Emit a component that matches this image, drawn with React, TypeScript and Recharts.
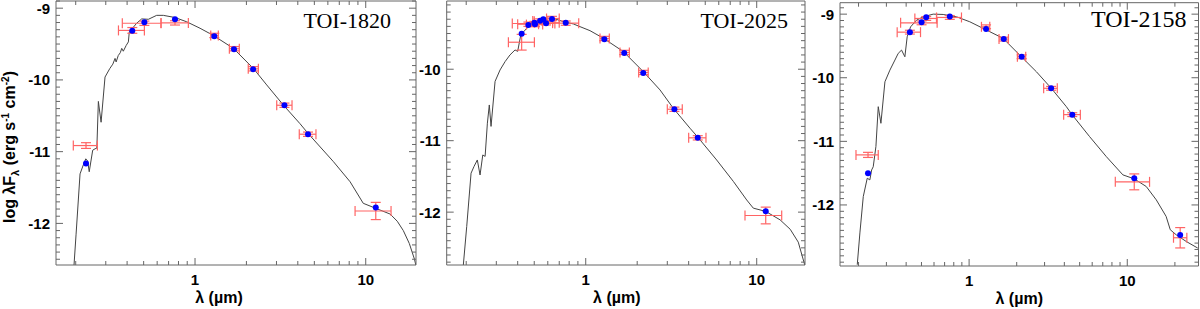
import React from 'react';
import { ComposedChart, Line, Scatter, ErrorBar, XAxis, YAxis } from 'recharts';

// TOI-1820: model spectrum (um, log flux) and photometry
const TOI1820_MODEL_WAVE = [
  0.1955, 0.201, 0.212, 0.222, 0.229, 0.235, 0.24, 0.2515, 0.2596, 0.266, 0.2715, 0.2816, 0.297, 0.317,
  0.33, 0.34, 0.345, 0.355, 0.365, 0.372, 0.38, 0.395, 0.407, 0.412, 0.43, 0.455, 0.487, 0.533, 0.596,
  0.652, 0.763, 0.894, 1.07, 1.28, 1.677, 2.196, 2.63, 3.29, 4.12, 4.61, 6.47, 8.1, 9.67, 11.45, 13.9,
  15.3, 16.6, 18.0, 19.3, 19.65,
];
const TOI1820_MODEL_FLUX = [
  -12.58, -12.15, -11.31, -11.18, -11.1, -11.13, -11.28, -10.98, -10.96, -10.95, -10.3, -10.59, -9.96, -9.84,
  -9.78, -9.7, -9.75, -9.66, -9.62, -9.56, -9.6, -9.52, -9.47, -9.33, -9.28, -9.21, -9.15, -9.155, -9.1,
  -9.1, -9.13, -9.19, -9.28, -9.38, -9.56, -9.84, -10.07, -10.35, -10.61, -10.75, -11.14, -11.42, -11.72, -11.79, -11.87,
  -11.97, -12.1, -12.28, -12.5, -12.58,
];
const TOI1820_WAVE = [0.2298, 0.429, 0.505, 0.763, 1.297, 1.692, 2.19, 3.34, 4.59, 11.45];
const TOI1820_WAVE_LO = [0.1936, 0.356, 0.375, 0.632, 1.236, 1.589, 2.05, 3.01, 4.08, 8.66];
const TOI1820_WAVE_HI = [0.268, 0.505, 0.632, 0.914, 1.369, 1.817, 2.35, 3.7, 5.11, 14.07];
const TOI1820_FLUX = [-10.915, -9.31, -9.21, -9.205, -9.38, -9.565, -9.845, -10.353, -10.757, -11.827];
const TOI1820_ERR = [0.04, 0.04, 0.03, 0.03, 0.03, 0.03, 0.03, 0.03, 0.03, 0.12];
const TOI1820_SYNTH = [-11.166, -9.316, -9.195, -9.153, -9.39, -9.572, -9.851, -10.353, -10.757, -11.78];

// TOI-2025
const TOI2025_MODEL_WAVE = [
  0.1924, 0.2014, 0.2135, 0.2223, 0.2323, 0.241, 0.25, 0.258, 0.266, 0.273, 0.2794, 0.295, 0.3155, 0.3375,
  0.3606, 0.386, 0.4, 0.417, 0.452, 0.4946, 0.565, 0.646, 0.7396, 0.846, 0.926, 1.059, 1.268, 1.66, 2.17,
  2.72, 3.25, 4.07, 4.52, 5.83, 7.3, 8.74, 9.55, 11.29, 13.7, 15.7, 17.5, 19.1,
];
const TOI2025_MODEL_FLUX = [
  -12.74, -12.2, -11.455, -11.36, -11.27, -11.48, -11.2, -11.22, -10.755, -10.5, -10.8, -10.17, -10.01, -9.894,
  -9.8, -9.73, -9.75, -9.52, -9.427, -9.357, -9.287, -9.287, -9.334, -9.366, -9.404, -9.46, -9.566, -9.753, -10.033,
  -10.29, -10.546, -10.825, -10.95, -11.27, -11.57, -11.83, -11.944, -11.99, -12.108, -12.24, -12.42, -12.74,
];
const TOI2025_WAVE = [0.422, 0.462, 0.501, 0.505, 0.541, 0.565, 0.586, 0.635, 0.764, 1.285, 1.68, 2.17, 3.3, 4.52, 11.29];
const TOI2025_WAVE_LO = [0.353, 0.4, 0.372, 0.45, 0.49, 0.5, 0.5, 0.59, 0.64, 1.212, 1.587, 2.04, 3.0, 4.0, 8.54];
const TOI2025_WAVE_HI = [0.501, 0.53, 0.66, 0.56, 0.6, 0.64, 0.7, 0.7, 0.91, 1.374, 1.8, 2.32, 3.67, 5.05, 14.0];
const TOI2025_FLUX = [-9.622, -9.37, -9.36, -9.375, -9.325, -9.33, -9.35, -9.29, -9.355, -9.57, -9.765, -10.045, -10.56, -10.96, -12.047];
const TOI2025_ERR = [0.11, 0.03, 0.03, 0.03, 0.03, 0.03, 0.03, 0.03, 0.03, 0.03, 0.03, 0.03, 0.03, 0.03, 0.117];
const TOI2025_SYNTH = [-9.502, -9.38, -9.348, -9.37, -9.32, -9.3, -9.357, -9.297, -9.348, -9.58, -9.772, -10.052, -10.56, -10.96, -11.986];

// TOI-2158
const TOI2158_MODEL_WAVE = [
  0.1963, 0.204, 0.2143, 0.227, 0.2358, 0.242, 0.2477, 0.2576, 0.2665, 0.277, 0.2937, 0.3157, 0.3396, 0.3563,
  0.374, 0.3926, 0.406, 0.4266, 0.4656, 0.5125, 0.593, 0.6855, 0.833, 1.01, 1.288, 1.64, 2.19, 2.665, 3.31,
  4.12, 4.49, 5.78, 7.37, 9.38, 11.07, 13.18, 15.25, 17.6, 18.7, 20.4, 23.6, 27.9,
];
const TOI2158_MODEL_FLUX = [
  -12.94, -12.44, -11.868, -11.58, -11.606, -11.45, -11.4, -11.08, -10.455, -10.716, -10.063, -9.88, -9.722, -9.617,
  -9.565, -9.67, -9.356, -9.2, -9.094, -9.042, -9.0, -9.005, -9.042, -9.12, -9.25, -9.38, -9.695, -9.906, -10.166,
  -10.455, -10.585, -10.926, -11.24, -11.527, -11.59, -11.71, -11.92, -12.18, -12.39, -12.47, -12.575, -12.678,
];
const TOI2158_WAVE = [0.2296, 0.4224, 0.5006, 0.5355, 0.755, 1.28, 1.656, 2.15, 3.3, 4.49, 11.07, 21.6];
const TOI2158_WAVE_LO = [0.1927, 0.351, 0.369, 0.454, 0.6225, 1.197, 1.546, 2.02, 2.96, 3.96, 8.4, 19.6];
const TOI2158_WAVE_HI = [0.2665, 0.493, 0.628, 0.6225, 0.895, 1.351, 1.773, 2.28, 3.61, 5.05, 13.83, 23.8];
const TOI2158_FLUX = [-11.213, -9.283, -9.137, -9.068, -9.052, -9.199, -9.392, -9.67, -10.166, -10.58, -11.637, -12.516];
const TOI2158_ERR = [0.04, 0.03, 0.03, 0.03, 0.03, 0.03, 0.03, 0.03, 0.03, 0.03, 0.125, 0.16];
const TOI2158_SYNTH = [-11.5, -9.283, -9.126, -9.047, -9.036, -9.235, -9.392, -9.67, -10.166, -10.58, -11.58, -12.474];

const X_TICKS = [0.2, 0.3, 0.4, 0.5, 0.6, 0.7, 0.8, 0.9, 1, 2, 3, 4, 5, 6, 7, 8, 9, 10, 20];
const X_LABELS = [1, 10];

const SANS = '"Liberation Sans", Arial, Helvetica, sans-serif';
const SERIF = '"Liberation Serif", "Times New Roman", serif';
const FRAME = '#666';
const MODEL_COLOR = '#444';
const OBS_COLOR = '#ff6464';
const SYNTH_COLOR = '#0000ff';

const tickFont = { fontFamily: SANS, fontWeight: 700, fontSize: 15, fill: '#000' };

function bottomTick(p: any) {
  const v = p.payload.value;
  const major = X_LABELS.includes(v);
  return (
    <g>
      <line x1={p.x} x2={p.x} y1={p.y} y2={p.y - (major ? 7 : 4)} stroke={FRAME} />
      {major && (
        <text x={p.x} y={p.y + 20} textAnchor="middle" style={tickFont}>
          {v}
        </text>
      )}
    </g>
  );
}

function topTick(p: any) {
  const major = X_LABELS.includes(p.payload.value);
  return <line x1={p.x} x2={p.x} y1={p.y} y2={p.y + (major ? 7 : 4)} stroke={FRAME} />;
}

function leftTick(p: any) {
  const v = p.payload.value;
  const major = Number.isInteger(v);
  return (
    <g>
      <line x1={p.x} x2={p.x + (major ? 7 : 4)} y1={p.y} y2={p.y} stroke={FRAME} />
      {major && (
        <text x={p.x - 6} y={p.y} dy="0.36em" textAnchor="end" style={tickFont}>
          {v}
        </text>
      )}
    </g>
  );
}

function rightTick(p: any) {
  const major = Number.isInteger(p.payload.value);
  return <line x1={p.x} x2={p.x - (major ? 7 : 4)} y1={p.y} y2={p.y} stroke={FRAME} />;
}

const noShape = () => <g />;
const synthDot = (p: any) => <circle cx={p.cx} cy={p.cy} r={3} fill={SYNTH_COLOR} />;

interface PanelSpec {
  name: string;
  left: number;
  width: number;
  // plot box edges inside this chart's own svg
  box: { top: number; right: number; bottom: number; left: number };
  xDomain: [number, number];
  yDomain: [number, number];
  modelWave: number[];
  modelFlux: number[];
  wave: number[];
  lo: number[];
  hi: number[];
  flux: number[];
  err: number[];
  synth: number[];
  titleInset: number;
  titleDrop: number;
  titleSize: number;
  xTitleShift: number;
  yTitle: boolean;
}

const PANELS: PanelSpec[] = [
  {
    name: 'TOI-1820',
    left: 0,
    width: 418,
    box: { top: 1, right: 2, bottom: 44, left: 56 },
    xDomain: [0.1533, 19.7],
    yDomain: [-12.58, -8.9],
    modelWave: TOI1820_MODEL_WAVE,
    modelFlux: TOI1820_MODEL_FLUX,
    wave: TOI1820_WAVE,
    lo: TOI1820_WAVE_LO,
    hi: TOI1820_WAVE_HI,
    flux: TOI1820_FLUX,
    err: TOI1820_ERR,
    synth: TOI1820_SYNTH,
    titleInset: 25,
    titleDrop: 27,
    titleSize: 22,
    xTitleShift: -17,
    yTitle: true,
  },
  {
    name: 'TOI-2025',
    left: 418,
    width: 392,
    box: { top: 1, right: 5, bottom: 44, left: 28.7 },
    xDomain: [0.1538, 19.16],
    yDomain: [-12.74, -9.045],
    modelWave: TOI2025_MODEL_WAVE,
    modelFlux: TOI2025_MODEL_FLUX,
    wave: TOI2025_WAVE,
    lo: TOI2025_WAVE_LO,
    hi: TOI2025_WAVE_HI,
    flux: TOI2025_FLUX,
    err: TOI2025_ERR,
    synth: TOI2025_SYNTH,
    titleInset: 17,
    titleDrop: 27,
    titleSize: 22,
    xTitleShift: -9,
    yTitle: false,
  },
  {
    name: 'TOI-2158',
    left: 810,
    width: 390,
    box: { top: 2.7, right: 1.5, bottom: 43, left: 30 },
    xDomain: [0.1527, 28.2],
    yDomain: [-12.96, -8.82],
    modelWave: TOI2158_MODEL_WAVE,
    modelFlux: TOI2158_MODEL_FLUX,
    wave: TOI2158_WAVE,
    lo: TOI2158_WAVE_LO,
    hi: TOI2158_WAVE_HI,
    flux: TOI2158_FLUX,
    err: TOI2158_ERR,
    synth: TOI2158_SYNTH,
    titleInset: 12,
    titleDrop: 24.5,
    titleSize: 24,
    xTitleShift: 0,
    yTitle: false,
  },
];

// each axis gets 1px of room (recharts skips axes of zero size)
const AXIS_ROOM = 1;

function SedPanel({ spec }: { spec: PanelSpec }) {
  const model = spec.modelWave.map((x, i) => ({ x, y: spec.modelFlux[i] }));
  const obs = spec.wave.map((x, i) => ({
    x,
    y: spec.flux[i],
    ex: [x - spec.lo[i], spec.hi[i] - x],
    ey: spec.err[i],
  }));
  const synth = spec.wave.map((x, i) => ({ x, y: spec.synth[i] }));

  const xTicks = X_TICKS.filter((t) => t >= spec.xDomain[0] && t <= spec.xDomain[1]);
  const yTicks: number[] = [];
  for (let k = Math.ceil(spec.yDomain[0] * 10); k <= Math.floor(spec.yDomain[1] * 10); k++) yTicks.push(k / 10);

  const margin = {
    top: spec.box.top - AXIS_ROOM,
    right: spec.box.right - AXIS_ROOM,
    bottom: spec.box.bottom - AXIS_ROOM,
    left: spec.box.left - AXIS_ROOM,
  };

  const xTitle = (p: any) => {
    const vb = p.viewBox;
    return (
      <text
        x={vb.x + vb.width / 2 + spec.xTitleShift}
        y={vb.y + 38}
        textAnchor="middle"
        style={{ fontFamily: SANS, fontWeight: 700, fontSize: 16, fill: '#000' }}
      >
        λ (µm)
      </text>
    );
  };

  const panelTitle = (p: any) => {
    const vb = p.viewBox;
    return (
      <text
        x={vb.x + vb.width - spec.titleInset}
        y={vb.y + vb.height + spec.titleDrop}
        textAnchor="end"
        style={{ fontFamily: SERIF, fontSize: spec.titleSize, fill: '#000' }}
      >
        {spec.name}
      </text>
    );
  };

  const yTitle = (p: any) => {
    if (!spec.yTitle) return null;
    const vb = p.viewBox;
    const cx = spec.box.left - 41;
    const cy = vb.y + 146;
    return (
      <text
        x={cx}
        y={cy}
        transform={`rotate(-90, ${cx}, ${cy})`}
        textAnchor="middle"
        style={{ fontFamily: SANS, fontWeight: 700, fontSize: 16, fill: '#000' }}
      >
        log λF
        <tspan dy={4} fontSize={11}>λ</tspan>
        <tspan dy={-4}> (erg s</tspan>
        <tspan dy={-6} fontSize={10}>-1</tspan>
        <tspan dy={6}> cm</tspan>
        <tspan dy={-6} fontSize={10}>-2</tspan>
        <tspan dy={6}>)</tspan>
      </text>
    );
  };

  return (
    <div style={{ position: 'absolute', left: spec.left, top: 0 }}>
      <ComposedChart width={spec.width} height={309} margin={margin}>
        <XAxis
          dataKey="x"
          type="number"
          scale="log"
          domain={spec.xDomain}
          allowDataOverflow
          ticks={xTicks}
          interval={0}
          height={AXIS_ROOM}
          tickSize={0}
          tickMargin={0}
          tickLine={false}
          axisLine={{ stroke: FRAME }}
          tick={bottomTick}
          label={{ content: xTitle }}
        />
        <XAxis
          xAxisId="top"
          orientation="top"
          dataKey="x"
          type="number"
          scale="log"
          domain={spec.xDomain}
          allowDataOverflow
          ticks={xTicks}
          interval={0}
          height={AXIS_ROOM}
          tickSize={0}
          tickMargin={0}
          tickLine={false}
          axisLine={{ stroke: FRAME }}
          tick={topTick}
          label={{ content: panelTitle }}
        />
        <YAxis
          dataKey="y"
          type="number"
          domain={spec.yDomain}
          allowDataOverflow
          ticks={yTicks}
          interval={0}
          width={AXIS_ROOM}
          tickSize={0}
          tickMargin={0}
          tickLine={false}
          axisLine={{ stroke: FRAME }}
          tick={leftTick}
          label={{ content: yTitle }}
        />
        <YAxis
          yAxisId="right"
          orientation="right"
          dataKey="y"
          type="number"
          domain={spec.yDomain}
          allowDataOverflow
          ticks={yTicks}
          interval={0}
          width={AXIS_ROOM}
          tickSize={0}
          tickMargin={0}
          tickLine={false}
          axisLine={{ stroke: FRAME }}
          tick={rightTick}
        />
        <Line
          data={model}
          dataKey="y"
          type="linear"
          stroke={MODEL_COLOR}
          strokeWidth={1}
          dot={false}
          isAnimationActive={false}
        />
        <Scatter data={obs} dataKey="y" shape={noShape} isAnimationActive={false}>
          <ErrorBar dataKey="ex" direction="x" width={5} stroke={OBS_COLOR} strokeWidth={1.2} isAnimationActive={false} />
          <ErrorBar dataKey="ey" direction="y" width={5} stroke={OBS_COLOR} strokeWidth={1.2} isAnimationActive={false} />
        </Scatter>
        <Scatter data={synth} dataKey="y" shape={synthDot} isAnimationActive={false} />
      </ComposedChart>
    </div>
  );
}

export default function App() {
  return (
    <div style={{ position: 'absolute', left: 0, top: 0, width: 1200, height: 309, background: '#fff' }}>
      {PANELS.map((p) => (
        <SedPanel key={p.name} spec={p} />
      ))}
    </div>
  );
}
